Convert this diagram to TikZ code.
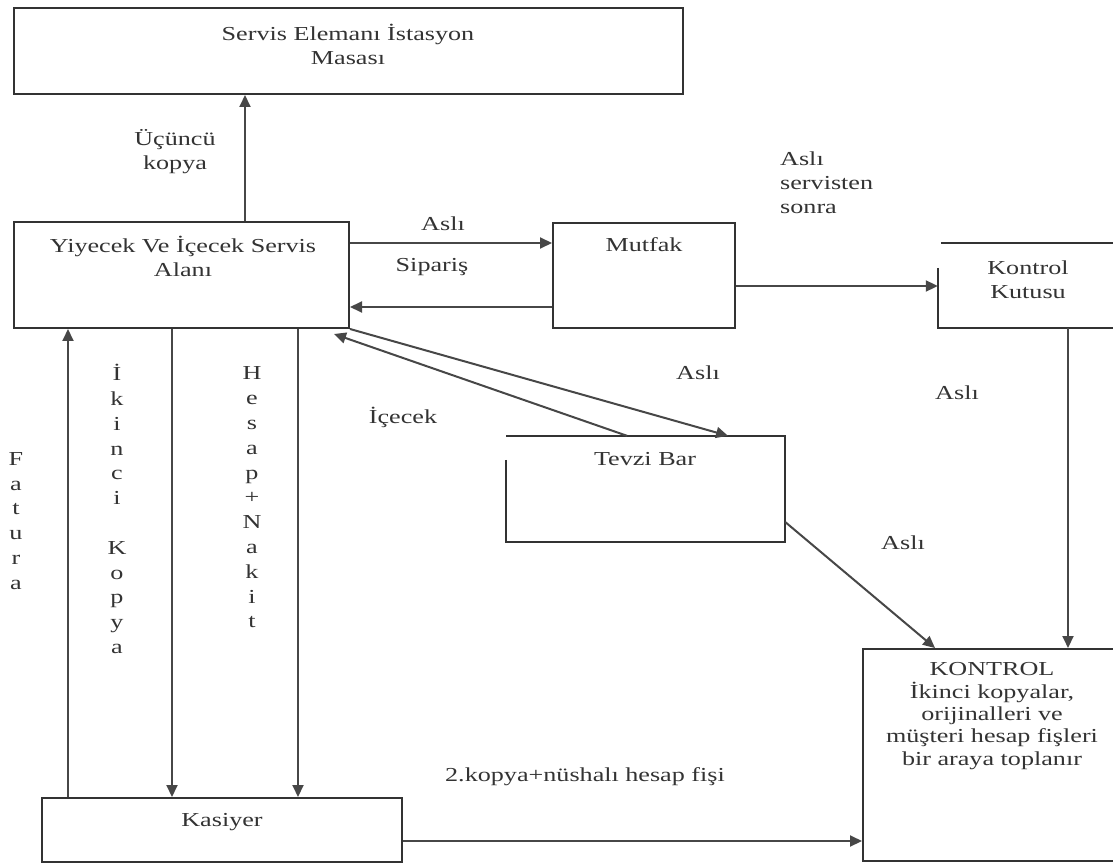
\documentclass[tikz,border=0pt]{standalone}
\usepackage{fontspec}
\setmainfont{Liberation Serif}[FakeStretch=1.32]
\usetikzlibrary{arrows.meta}
\begin{document}
\begin{tikzpicture}[x=1pt,y=-1pt,
  lbl/.style={font=\fontsize{19.8}{24}\selectfont, text=black!80, inner sep=0pt, align=center},
  vlbl/.style={font=\fontsize{19.8}{24.8}\selectfont, text=black!80, inner sep=0pt, align=center},
  frame/.style={draw=black!80, line width=2pt, inner sep=0pt},
  ghost/.style={inner sep=0pt},
  outline/.style={draw=black!80, line width=2pt},
  edge/.style={draw=black!72, line width=2pt},
  arr/.style={edge, -{Triangle[length=12pt,width=11pt]}}
]
\useasboundingbox (0,0) rectangle (1113,866);
\clip (0,0) rectangle (1113,866);

% boxes
\node[frame, minimum width=669pt, minimum height=86pt] (masa) at (348.5,51) {};
\node[frame, minimum width=335pt, minimum height=106pt] (alan) at (181.5,275) {};
\node[frame, minimum width=182pt, minimum height=105pt] (mutfak) at (644,275.5) {};
\node[ghost, minimum width=187pt, minimum height=85pt] (kutu) at (1031.5,285.5) {};
\node[ghost, minimum width=279pt, minimum height=106pt] (bar) at (645.5,489) {};
\node[frame, minimum width=262pt, minimum height=212pt] (kontrol) at (994,755) {};
\node[frame, minimum width=360pt, minimum height=64pt] (kasiyer) at (222,830) {};

% open outlines of the control box and the bar
\draw[outline] ([xshift=3pt]kutu.north west) -- (kutu.north east);
\draw[outline] ([yshift=-25pt]kutu.north west) -- (kutu.south west) -- (kutu.south east);
\draw[outline] ([yshift=-24pt]bar.north west) -- (bar.south west) -- (bar.south east)
  -- (bar.north east) -- (bar.north west);

% box texts
\node[lbl] (tmasa) at (348,44) {Servis Elemanı İstasyon\\Masası};
\node[lbl] (talan) at (183,256.5) {Yiyecek Ve İçecek Servis\\Alanı};
\node[lbl] (tmutfak) at (644,245) {Mutfak};
\node[lbl] (tkutu) at (1028,279.5) {Kontrol\\Kutusu};
\node[lbl] (tbar) at (645,459) {Tevzi Bar};
\node[lbl, font=\fontsize{19.8}{22.3}\selectfont] (tkontrol) at (992,716)
  {KONTROL\\İkinci kopyalar,\\orijinalleri ve\\müşteri hesap fişleri\\bir araya toplanır};
\node[lbl] (tkasiyer) at (222,822) {Kasiyer};

% connectors
\coordinate (c1) at ([xshift=63.5pt]alan.north);
\draw[arr] (c1) -- (c1 |- masa.south);

\coordinate (c2) at ([yshift=32pt]alan.east);
\draw[arr] (c2) -- (c2 -| mutfak.west);

\coordinate (c3) at ([yshift=-31.5pt]mutfak.west);
\draw[arr] (c3) -- (c3 -| alan.east);

\coordinate (c4) at ([yshift=-10.5pt]mutfak.east);
\draw[arr] (c4) -- (c4 -| kutu.west);

\coordinate (c5) at ([xshift=36.5pt]kutu.south);
\draw[arr] (c5) -- (c5 |- kontrol.north);

\coordinate (c6) at ([yshift=-33pt]bar.east);
\draw[arr] (c6) -- ([xshift=-59pt]kontrol.north);

\draw[arr] (alan.south east) -- ([xshift=82.5pt]bar.north);
\draw[arr] ([xshift=-18.5pt]bar.north) -- ([xshift=-16pt,yshift=-5pt]alan.south east);

\coordinate (c7) at ([xshift=-154pt]kasiyer.north);
\draw[arr] (c7) -- (c7 |- alan.south);

\coordinate (c8) at ([xshift=-9.5pt]alan.south);
\draw[arr] (c8) -- (c8 |- kasiyer.north);

\coordinate (c9) at ([xshift=116.5pt]alan.south);
\draw[arr] (c9) -- (c9 |- kasiyer.north);

\coordinate (c10) at ([yshift=-11pt]kasiyer.east);
\draw[arr] (c10) -- (c10 -| kontrol.west);

% connector labels
\node[lbl] (l1) at (175,151.5) {Üçüncü\\kopya};
\node[lbl] (l2) at (443,224) {Aslı};
\node[lbl] (l3) at (432,267) {Sipariş};
\node[lbl, align=left, anchor=west] (l4) at (780,182.5) {Aslı\\servisten\\sonra};
\node[lbl] (l5) at (698,373) {Aslı};
\node[lbl] (l6) at (403,417) {İçecek};
\node[lbl] (l7) at (957,393) {Aslı};
\node[lbl] (l8) at (903,543) {Aslı};
\node[lbl] (l9) at (585,777) {2.kopya+nüshalı hesap fişi};
\node[vlbl] (l10) at (16,521) {F\\a\\t\\u\\r\\a};
\node[vlbl] (l11) at (117,509) {İ\\k\\i\\n\\c\\i\\~\\K\\o\\p\\y\\a};
\node[vlbl] (l12) at (252,497.5) {H\\e\\s\\a\\p\\+\\N\\a\\k\\i\\t};
\end{tikzpicture}
\end{document}
